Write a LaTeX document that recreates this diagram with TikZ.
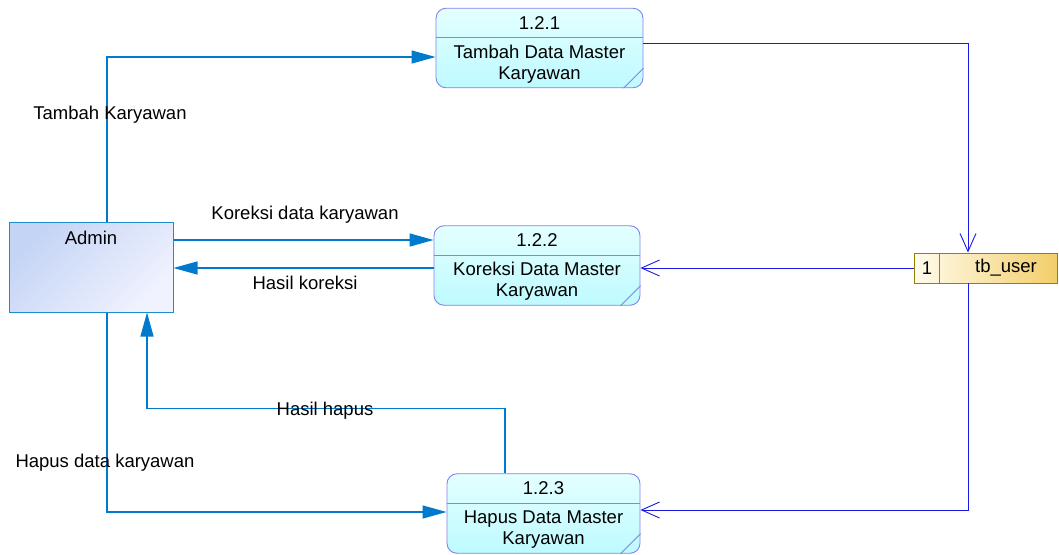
\documentclass[tikz,border=0pt]{standalone}
\usepackage{fontspec}
\setmainfont{Liberation Sans}
\usetikzlibrary{arrows.meta,calc}

\definecolor{flow}{RGB}{0,122,204}
\definecolor{storeflow}{RGB}{25,25,225}
\definecolor{procline}{RGB}{130,130,240}
\definecolor{proctop}{RGB}{228,255,255}
\definecolor{procbot}{RGB}{190,250,255}
\definecolor{entline}{RGB}{30,140,210}
\definecolor{entdark}{RGB}{196,212,245}
\definecolor{entlight}{RGB}{240,242,254}
\definecolor{storeedge}{RGB}{150,130,0}
\definecolor{storelight}{RGB}{255,252,238}
\definecolor{storedark}{RGB}{243,206,105}

\tikzset{
  process/.style={draw=procline, line width=0.9pt, rounded corners=10pt,
    top color=proctop, bottom color=procbot, inner sep=0pt},
  entity/.style={draw=entline, line width=1pt, inner sep=0pt,
    shading=axis, top color=entdark, bottom color=entlight, shading angle=45},
  datastore/.style={draw=storeedge, line width=0.9pt, inner sep=0pt,
    left color=storelight, right color=storedark},
  flowline/.style={draw=flow, line width=1.2pt, -{Triangle[length=24pt,width=13pt]}},
  storeflowline/.style={draw=storeflow, line width=0.9pt, -{Straight Barb[length=18pt,width=16pt]}},
  lbl/.style={inner sep=0pt, align=center}
}

\newcommand{\procbox}[5]{%
  % #1 name, #2 centre, #3 width, #4 number, #5 title
  \node[process, minimum width=#3, minimum height=79.5] (#1) at #2 {};
  \draw[procline, line width=0.9pt] ($(#1.north west)+(0,30)$) -- ($(#1.north east)+(0,30)$);
  \draw[procline, line width=0.9pt] ($(#1.south east)+(-20,0)$) -- ($(#1.south east)+(0,-20)$);
  \node[lbl] (#1-num) at ($(#1.north)+(0,15)$) {#4};
  \node[lbl] (#1-txt) at ($(#1.north)+(0,56)$) {#5};
}

\begin{document}
\begin{tikzpicture}[x=1pt, y=-1pt, font=\fontsize{18.5}{21}\selectfont]
\useasboundingbox (0,0) rectangle (1059,554);

% processes
\procbox{p121}{(539.5,48)}{207}{1.2.1}{Tambah Data Master\\Karyawan}
\procbox{p122}{(537,265.5)}{206}{1.2.2}{Koreksi Data Master\\Karyawan}
\procbox{p123}{(543.5,513.5)}{193}{1.2.3}{Hapus Data Master\\Karyawan}

% external entity
\node[entity, minimum width=164, minimum height=90] (admin) at (91,267) {};
\node[lbl] (admin-txt) at ($(admin.north)+(0,16)$) {Admin};

% data store
\node[datastore, minimum width=143, minimum height=30] (store) at (985.5,268) {};
\draw[draw=storeedge, line width=0.9pt] ($(store.north west)+(26,0)$) -- ($(store.south west)+(26,0)$);
\node[lbl] (store-id) at (927,268) {1};
\node[lbl] (store-txt) at (1006,268) {tb\_user};

% flows from Admin
\draw[flowline] ($(admin.north)+(16,0)$) |- ($(p121.west)+(0,9)$);
\coordinate (a1) at ($(admin.east)+(0,-27)$);
\draw[flowline] (a1) -- (a1 -| p122.west);
\coordinate (a2) at ($(p122.west)+(0,2.5)$);
\draw[flowline] (a2) -- (a2 -| admin.east);
\draw[flowline] ($(admin.south)+(16,0)$) |- ($(p123.west)+(0,-1.5)$);
\draw[flowline] ($(p123.north)+(-38.5,0)$) -- ++(0,-65) -| ($(admin.south)+(56,0)$);

% flows with the data store
\draw[storeflowline] ($(p121.east)+(0,-5)$) -| ($(store.north)+(-17.5,0)$);
\draw[storeflowline] (store.west) -- (store.west -| p122.east);
\draw[storeflowline] ($(store.south)+(-17.5,0)$) |- ($(p123.east)+(0,-3.5)$);

% flow labels
\node[lbl] (l1) at (110,115) {Tambah Karyawan};
\node[lbl] (l2) at (305,215) {Koreksi data karyawan};
\node[lbl] (l3) at (305,283) {Hasil koreksi};
\node[lbl] (l4) at (325,411) {Hasil hapus};
\node[lbl] (l5) at (105,463) {Hapus data karyawan};
\end{tikzpicture}
\end{document}
